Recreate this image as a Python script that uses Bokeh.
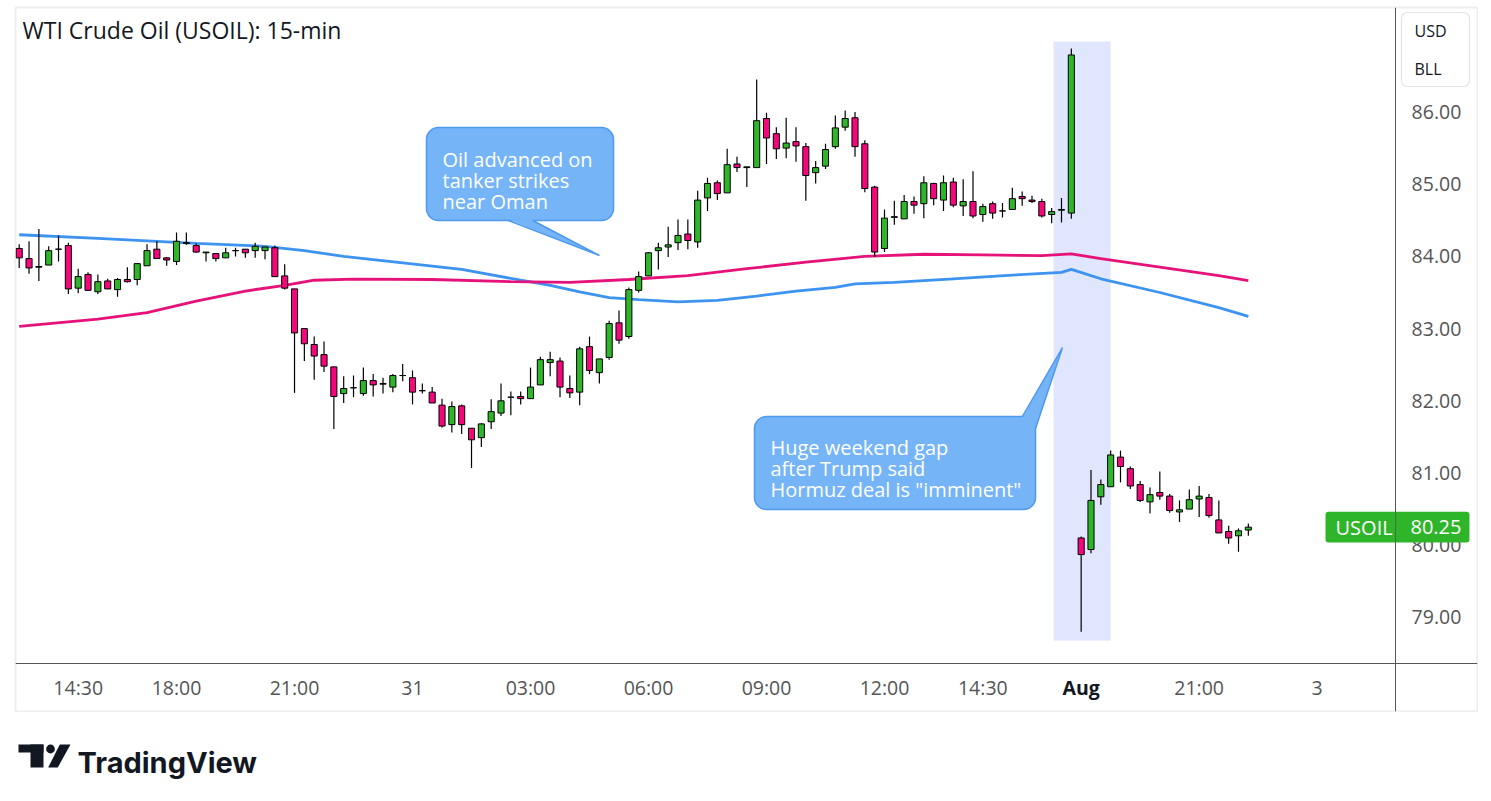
from bokeh.plotting import figure
from bokeh.models import (Range1d, LinearAxis, FixedTicker, Label, NumeralTickFormatter,
                          Spacer, ColumnDataSource)
from bokeh.layouts import column, row
from bokeh.embed import file_html
from bokeh.resources import INLINE
from bokeh.core.properties import value

# ---------------- data ----------------
open_ = [84.11, 83.97, 83.85, 83.88, 84.10, 84.15, 83.56, 83.75, 83.51, 83.66,
         83.54, 83.68, 83.68, 83.87, 84.10, 83.98, 83.93, 84.18, 84.15, 84.05,
         84.04, 83.98, 84.08, 84.10, 84.08, 84.08, 84.12, 83.73, 83.55, 83.00,
         82.78, 82.64, 82.47, 82.10, 82.18, 82.10, 82.28, 82.23, 82.19, 82.35,
         82.32, 82.14, 82.12, 81.94, 81.67, 81.93, 81.62, 81.49, 81.71, 81.83,
         82.05, 82.06, 82.03, 82.22, 82.53, 82.55, 82.17, 82.12, 82.75, 82.39,
         82.60, 83.08, 82.89, 83.53, 83.73, 84.08, 84.13, 84.19, 84.31, 84.20,
         84.81, 85.02, 84.88, 85.28, 85.23, 85.23, 85.91, 85.70, 85.50, 85.59,
         85.52, 85.16, 85.25, 85.52, 85.79, 85.92, 85.56, 84.96, 84.11, 84.54,
         84.52, 84.76, 84.73, 85.01, 84.78, 85.03, 84.70, 84.76, 84.58, 84.73,
         84.63, 84.65, 84.83, 84.78, 84.76, 84.58, 84.64, 84.60, 80.10, 79.94,
         80.67, 80.81, 81.22, 81.06, 80.84, 80.60, 80.73, 80.68, 80.46, 80.50,
         80.64, 80.66, 80.35, 80.19, 80.13, 80.21]
high = [84.17, 84.21, 84.38, 84.14, 84.29, 84.19, 83.83, 83.78, 83.75, 83.69,
        83.70, 83.85, 83.90, 84.17, 84.21, 83.99, 84.33, 84.33, 84.18, 84.06,
        84.04, 84.12, 84.12, 84.10, 84.19, 84.13, 84.15, 83.89, 83.55, 83.00,
        82.89, 82.82, 82.47, 82.34, 82.35, 82.46, 82.37, 82.32, 82.37, 82.51,
        82.42, 82.24, 82.19, 82.03, 81.99, 81.95, 81.62, 81.69, 82.02, 82.24,
        82.13, 82.13, 82.46, 82.61, 82.68, 82.60, 82.35, 82.75, 82.89, 82.58,
        83.11, 83.25, 83.57, 83.79, 84.06, 84.19, 84.41, 84.51, 84.51, 84.91,
        85.09, 85.05, 85.49, 85.38, 85.24, 86.45, 85.99, 85.79, 85.92, 85.79,
        85.57, 85.32, 85.56, 85.95, 86.02, 86.00, 85.61, 84.98, 84.65, 84.77,
        84.85, 84.83, 85.11, 85.02, 85.12, 85.09, 85.07, 85.18, 84.73, 84.76,
        84.74, 84.95, 84.90, 84.84, 84.80, 84.67, 84.81, 86.88, 80.12, 81.04,
        80.91, 81.31, 81.31, 81.09, 80.89, 80.80, 81.02, 80.71, 80.62, 80.77,
        80.82, 80.71, 80.62, 80.27, 80.23, 80.30]
low = [83.84, 83.76, 83.66, 83.88, 83.93, 83.48, 83.49, 83.52, 83.48, 83.55,
       83.44, 83.64, 83.60, 83.87, 83.97, 83.87, 83.88, 84.16, 84.05, 83.93,
       83.93, 83.98, 84.00, 83.98, 83.98, 83.96, 83.72, 83.54, 82.11, 82.55,
       82.29, 82.40, 81.61, 81.97, 82.05, 82.07, 82.06, 82.10, 82.12, 82.27,
       81.95, 82.10, 81.97, 81.63, 81.56, 81.54, 81.07, 81.36, 81.61, 81.79,
       81.80, 81.95, 82.03, 82.22, 82.34, 82.05, 82.04, 81.94, 82.37, 82.24,
       82.57, 82.79, 82.86, 83.50, 83.73, 83.82, 83.99, 84.09, 84.10, 84.12,
       84.63, 84.78, 84.88, 85.17, 84.96, 85.23, 85.28, 85.35, 85.36, 85.31,
       84.77, 85.01, 85.21, 85.49, 85.74, 85.38, 84.89, 83.99, 84.06, 84.44,
       84.52, 84.59, 84.53, 84.71, 84.63, 84.68, 84.56, 84.53, 84.48, 84.52,
       84.54, 84.65, 84.70, 84.74, 84.54, 84.46, 84.47, 84.52, 78.80, 79.89,
       80.56, 80.81, 80.87, 80.78, 80.60, 80.44, 80.63, 80.45, 80.32, 80.50,
       80.39, 80.38, 80.17, 80.02, 79.91, 80.13]
close = [83.98, 83.84, 83.86, 84.08, 84.10, 83.55, 83.72, 83.53, 83.65, 83.55,
         83.68, 83.65, 83.90, 84.08, 83.97, 83.95, 84.21, 84.19, 84.06, 84.06,
         83.97, 84.05, 84.08, 84.05, 84.14, 84.13, 83.72, 83.56, 82.94, 82.79,
         82.62, 82.48, 82.06, 82.17, 82.18, 82.28, 82.22, 82.24, 82.35, 82.35,
         82.12, 82.14, 81.97, 81.65, 81.92, 81.67, 81.46, 81.68, 81.85, 82.00,
         82.05, 82.03, 82.19, 82.57, 82.57, 82.19, 82.11, 82.72, 82.42, 82.58,
         83.07, 82.84, 83.54, 83.72, 84.05, 84.12, 84.16, 84.29, 84.22, 84.78,
         85.01, 84.87, 85.27, 85.23, 85.24, 85.88, 85.64, 85.49, 85.57, 85.53,
         85.12, 85.23, 85.48, 85.78, 85.91, 85.52, 84.94, 84.06, 84.53, 84.55,
         84.76, 84.71, 85.02, 84.80, 85.02, 84.71, 84.76, 84.56, 84.69, 84.60,
         84.63, 84.80, 84.80, 84.76, 84.56, 84.62, 84.65, 86.79, 79.87, 80.62,
         80.84, 81.25, 81.09, 80.82, 80.62, 80.70, 80.68, 80.48, 80.49, 80.63,
         80.68, 80.41, 80.17, 80.10, 80.20, 80.25]

# moving averages, read at selected bars
blue_x = [0, 8, 18, 25, 29, 33, 39, 45, 51, 54, 57, 60, 63, 67, 71, 75, 79, 83,
          85, 89, 95, 101, 106, 107, 110, 116, 122, 125]
blue_y = [84.30, 84.25, 84.18, 84.14, 84.08, 84.00, 83.91, 83.82, 83.67, 83.60,
          83.51, 83.43, 83.40, 83.37, 83.39, 83.45, 83.52, 83.57, 83.62, 83.64,
          83.69, 83.74, 83.78, 83.82, 83.69, 83.50, 83.29, 83.17]
pink_x = [0, 8, 13, 18, 23, 27, 30, 34, 42, 50, 56, 62, 68, 74, 80, 86, 92, 98,
          104, 107, 110, 116, 122, 125]
pink_y = [83.03, 83.13, 83.22, 83.38, 83.52, 83.60, 83.67, 83.685, 83.68, 83.65,
          83.64, 83.68, 83.735, 83.83, 83.92, 84.00, 84.03, 84.02, 84.01, 84.035,
          83.97, 83.85, 83.735, 83.665]

time_tick_bars = [6, 16, 28, 40, 52, 64, 76, 88, 98, 108, 120, 132]
time_tick_labels = ["14:30", "18:00", "21:00", "31", "03:00", "06:00", "09:00",
                    "12:00", "14:30", "Aug", "21:00", "3"]
price_ticks = [79, 80, 81, 82, 83, 84, 85, 86]
last_price = 80.25
symbol = "USOIL"
title_text = "WTI Crude Oil (USOIL): 15-min"
note1 = ["Oil advanced on", "tanker strikes", "near Oman"]
note2 = ["Huge weekend gap", "after Trump said", "Hormuz deal is \"imminent\""]
units = ["USD", "BLL"]

# ---------------- style ----------------
FONT = "Open Sans"
UP = "#2fb52a"
DOWN = "#f5077c"
BLUE_MA = "#3d93f0"
PINK_MA = "#e6127a"
CALLOUT_FILL = "#74b4f7"
CALLOUT_LINE = "#4d9af0"
BAND = "#dfe6fd"
TXT = "#131722"
AXT = "#555555"

bars = list(range(len(open_)))
src = ColumnDataSource(dict(
    x=bars, high=high, low=low,
    top=[max(o, c) for o, c in zip(open_, close)],
    bottom=[min(o, c) for o, c in zip(open_, close)],
    color=[UP if c >= o else DOWN for o, c in zip(open_, close)],
))

# the frame covers the whole chart box; the axes are pinned inside it
X_AXIS_AT = 139.98     # bar position of the price-axis line
Y_AXIS_AT = 78.3615    # price level of the time-axis line

p = figure(width=1464, height=706, output_backend="svg", toolbar_location=None,
           x_range=Range1d(-0.3763, 148.307), y_range=Range1d(77.6967, 87.4474),
           x_axis_location=None, y_axis_location=None, title=None,
           min_border_left=1, min_border_right=1, min_border_top=1,
           min_border_bottom=1)
p.grid.visible = False
p.outline_line_color = "#eceef2"
p.outline_line_width = 2
p.background_fill_color = "white"
p.border_fill_color = "white"

yaxis = LinearAxis(ticker=FixedTicker(ticks=price_ticks),
                   formatter=NumeralTickFormatter(format="0.00"),
                   fixed_location=X_AXIS_AT)
yaxis.axis_line_color = "#555555"
yaxis.major_tick_line_color = None
yaxis.minor_tick_line_color = None
yaxis.major_tick_in = 0
yaxis.major_tick_out = 0
yaxis.major_label_standoff = 16
yaxis.major_label_text_font = FONT
yaxis.major_label_text_font_size = "19.5px"
yaxis.major_label_text_color = AXT
p.add_layout(yaxis, "right")

overrides = {b: (lab if lab != "Aug" else "") for b, lab in zip(time_tick_bars, time_tick_labels)}
xaxis = LinearAxis(ticker=FixedTicker(ticks=time_tick_bars), major_label_overrides=overrides,
                   fixed_location=Y_AXIS_AT)
xaxis.axis_line_color = "#555555"
xaxis.major_tick_line_color = None
xaxis.minor_tick_line_color = None
xaxis.major_tick_in = 0
xaxis.major_tick_out = 0
xaxis.major_label_standoff = 10
xaxis.major_label_text_font = FONT
xaxis.major_label_text_font_size = "19.5px"
xaxis.major_label_text_color = AXT
p.add_layout(xaxis, "below")

# highlight band around the weekend gap
p.quad(left=[105.19], right=[111.0], bottom=[78.68], top=[86.976],
       fill_color=BAND, line_color=None)

# moving averages
p.line(blue_x, blue_y, line_color=BLUE_MA, line_width=2.8)
p.line(pink_x, pink_y, line_color=PINK_MA, line_width=2.8)

# candles
p.segment(x0="x", y0="low", x1="x", y1="high", source=src, line_color="black", line_width=1.2)
p.vbar(x="x", top="top", bottom="bottom", width=0.62, source=src,
       fill_color="color", line_color="black", line_width=1)

# callout 1
p.quad(left=[41.42], right=[60.44], bottom=[84.497], top=[85.785],
       fill_color=CALLOUT_FILL, line_color=CALLOUT_LINE, line_width=1.5, border_radius=12)
p.patch([49.76, 59.01, 52.2], [84.51, 84.0125, 84.51], fill_color=CALLOUT_FILL, line_color=None)
p.line([49.76, 59.01, 52.2], [84.497, 84.0125, 84.497], line_color=CALLOUT_LINE, line_width=1.5)
p.text(x=[43.05] * 3, y=[85.346, 85.055, 84.765], text=note1, text_color="white",
       text_font=value(FONT), text_font_size="20px", text_baseline="alphabetic")

# callout 2
p.quad(left=[74.78], right=[103.36], bottom=[80.494], top=[81.783],
       fill_color=CALLOUT_FILL, line_color=CALLOUT_LINE, line_width=1.5, border_radius=12)
p.patch([102.03, 106.1, 103.34, 102.03], [81.77, 82.738, 81.616, 81.616],
        fill_color=CALLOUT_FILL, line_color=None)
p.line([102.03, 106.1, 103.36], [81.783, 82.738, 81.616], line_color=CALLOUT_LINE, line_width=1.5)
p.text(x=[76.4] * 3, y=[81.349, 81.058, 80.767], text=note2, text_color="white",
       text_font=value(FONT), text_font_size="20px", text_baseline="alphabetic")

# title
p.text(x=[0.34], y=[87.138], text=[title_text], text_color=TXT,
       text_font=value(FONT), text_font_size="23px", text_baseline="alphabetic")

# bold "Aug" period label
p.add_layout(Label(x=108, y=78.029, text="Aug", text_font=FONT, text_font_size="19.5px",
                   text_font_style="bold", text_color=TXT, text_align="center",
                   text_baseline="middle"))

# currency / unit box (top of the price scale)
p.quad(left=[140.57], right=[147.49], bottom=[86.353], top=[87.378],
       fill_color="white", line_color="#e3e5ea", line_width=1.2, border_radius=6)
p.text(x=[141.9, 141.9], y=[87.115, 86.589], text=units, text_color=TXT,
       text_font=value(FONT), text_font_size="16px", text_baseline="middle")

# last price tag, drawn above the price scale
TAG_HALF = 0.213
p.quad(left=[132.85], right=[147.49], bottom=[last_price - TAG_HALF], top=[last_price + TAG_HALF],
       fill_color=UP, line_color=None, border_radius=3, level="overlay")
p.segment(x0=[X_AXIS_AT], x1=[X_AXIS_AT], y0=[last_price - TAG_HALF], y1=[last_price + TAG_HALF],
          line_color="#4d6b48", line_width=1, level="overlay")
p.text(x=[133.87, 141.49], y=[last_price, last_price], text=[symbol, f"{last_price:.2f}"],
       text_color="white", text_font=value(FONT), text_font_size="20px",
       text_baseline="middle", level="overlay")

# ---------------- TradingView logo strip ----------------
q = figure(width=1491, height=88, output_backend="svg", toolbar_location=None,
           x_range=Range1d(0, 1491), y_range=Range1d(88, 0),
           x_axis_location=None, y_axis_location=None, title=None,
           min_border_left=0, min_border_right=0, min_border_top=0, min_border_bottom=0)
q.grid.visible = False
q.outline_line_color = None
q.quad(left=[18, 30], right=[43, 43], top=[32, 32], bottom=[40, 55], fill_color=TXT, line_color=None)
q.circle(x=[50], y=[36.5], radius=4.4, fill_color=TXT, line_color=None)
q.patch([47.7, 57.3, 70, 59.3], [55, 55, 32, 32], fill_color=TXT, line_color=None)
q.text(x=[77], y=[50], text=["TradingView"], text_color=TXT, text_font=value("Inter"),
       text_font_size="29px", text_font_style="bold", text_baseline="alphabetic")

layout = column(Spacer(height=6), row(Spacer(width=14), p), q)
open("out.html", "w").write(file_html(layout, INLINE))
